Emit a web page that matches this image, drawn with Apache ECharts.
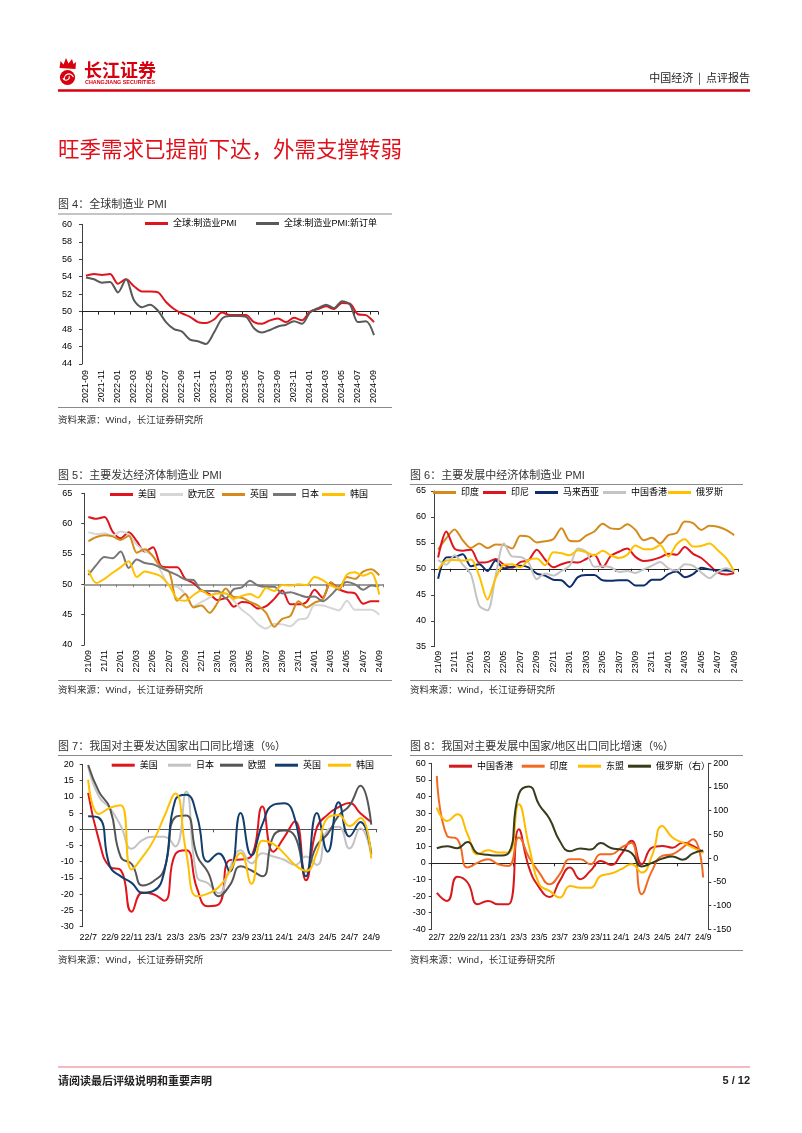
<!DOCTYPE html>
<html><head><meta charset="utf-8">
<script src="https://cdn.jsdelivr.net/npm/echarts@6/dist/echarts.min.js"></script>
<style>
html,body{margin:0;padding:0;background:#fff;width:802px;height:1133px;overflow:hidden;}
.c{position:absolute;left:0;top:0;width:802px;height:1133px;}
</style></head>
<body>
<div id="c0" class="c"></div><div id="c1" class="c"></div><div id="c2" class="c"></div>
<div id="c3" class="c"></div><div id="c4" class="c"></div><div id="c5" class="c"></div>
<script>
// ---------- categories ----------
const months4 = ['2021-09','2021-10','2021-11','2021-12','2022-01','2022-02','2022-03','2022-04','2022-05','2022-06','2022-07','2022-08','2022-09','2022-10','2022-11','2022-12','2023-01','2023-02','2023-03','2023-04','2023-05','2023-06','2023-07','2023-08','2023-09','2023-10','2023-11','2023-12','2024-01','2024-02','2024-03','2024-04','2024-05','2024-06','2024-07','2024-08','2024-09'];
const monthsS = ['21/09','21/10','21/11','21/12','22/01','22/02','22/03','22/04','22/05','22/06','22/07','22/08','22/09','22/10','22/11','22/12','23/01','23/02','23/03','23/04','23/05','23/06','23/07','23/08','23/09','23/10','23/11','23/12','24/01','24/02','24/03','24/04','24/05','24/06','24/07','24/08','24/09'];
const months7 = ['22/7','22/8','22/9','22/10','22/11','22/12','23/1','23/2','23/3','23/4','23/5','23/6','23/7','23/8','23/9','23/10','23/11','23/12','24/1','24/2','24/3','24/4','24/5','24/6','24/7','24/8','24/9'];

// ---------- Fig 4 ----------
const globalPMI = [54.1,54.3,54.2,54.3,53.2,53.7,52.9,52.3,52.3,52.2,51.1,50.3,49.8,49.4,48.8,48.7,49.1,49.9,49.6,49.6,49.6,48.8,48.6,49.0,49.2,48.8,49.3,49.0,50.0,50.3,50.6,50.3,51.0,50.9,49.7,49.6,48.8];
const globalNewOrders = [53.9,53.7,53.3,53.4,52.2,53.7,51.3,50.5,50.8,50.1,48.8,48.0,47.7,46.8,46.6,46.3,47.6,49.2,49.5,49.5,49.4,48.1,47.6,47.9,48.3,48.5,48.9,48.6,49.9,50.4,50.8,50.4,51.2,50.8,48.8,48.9,47.3];

// ---------- Fig 5 ----------
const usPMI = [61.1,60.8,61.1,58.7,57.6,58.6,57.1,55.4,56.1,53.0,52.8,52.8,50.9,50.2,49.0,48.4,47.4,47.7,46.3,47.1,46.9,46.0,46.4,47.6,49.0,46.7,46.7,47.1,49.1,47.8,50.3,49.2,48.7,48.5,46.8,47.2,47.2];
const ezPMI = [58.6,58.3,58.4,58.0,58.7,58.2,56.5,55.5,54.6,52.1,49.8,49.6,48.4,46.4,47.1,47.8,48.8,48.5,47.3,45.8,44.8,43.4,42.7,43.5,43.4,43.1,44.2,44.4,46.6,46.5,46.1,45.7,47.3,45.8,45.8,45.8,45.0];
const ukPMI = [57.1,57.8,58.1,57.9,57.3,58.0,55.2,55.8,54.6,52.8,52.1,47.3,48.4,46.2,46.5,45.3,47.0,49.3,47.9,47.8,47.1,46.5,45.3,43.0,44.3,44.8,47.2,46.2,47.0,47.5,50.3,49.1,51.2,50.9,52.1,52.5,51.5];
const jpPMI = [51.5,53.2,54.5,54.3,55.4,52.7,54.1,53.5,53.3,52.7,52.1,51.5,50.8,50.7,49.0,48.9,48.9,47.7,49.2,49.5,50.6,49.8,49.6,49.6,48.5,48.7,48.3,47.9,48.0,47.2,48.2,49.6,50.4,50.0,49.1,49.8,49.7];
const krPMI = [52.4,50.2,50.9,51.9,52.8,53.8,51.2,52.1,51.8,51.3,49.8,47.6,47.3,48.2,49.0,48.2,48.5,48.5,47.6,48.1,48.4,47.8,49.4,48.9,49.9,49.8,50.0,49.9,51.2,50.7,49.8,49.4,51.6,52.0,51.4,51.9,48.3];

// ---------- Fig 6 ----------
const inPMI = [53.7,55.9,57.6,55.5,54.0,54.9,54.0,54.7,54.6,53.9,56.4,56.2,55.1,55.3,55.7,57.8,55.4,55.3,56.4,57.2,58.7,57.8,57.7,58.6,57.5,55.5,56.0,54.9,56.5,56.9,59.1,58.8,57.5,58.3,58.1,57.5,56.5];
const idPMI = [52.2,57.2,53.9,53.5,53.7,51.2,51.3,51.9,50.8,50.2,51.3,51.7,53.7,51.8,50.3,50.9,51.3,51.2,51.9,52.7,50.3,52.5,53.3,53.9,52.3,51.5,51.7,52.2,52.9,52.7,54.2,52.9,52.1,50.7,49.3,48.9,49.2];
const myPMI = [48.1,52.2,52.3,52.8,50.5,50.9,49.6,51.6,50.1,50.4,50.6,50.3,49.1,48.7,47.9,47.8,46.5,48.4,48.8,48.8,47.8,47.7,47.8,47.8,46.8,46.8,47.9,47.9,49.0,49.5,48.4,49.0,50.2,49.9,49.7,49.7,49.5];
const hkPMI = [51.7,50.8,52.6,50.8,48.9,42.9,42.0,48.7,54.9,52.4,52.3,51.2,48.0,49.1,48.7,49.6,50.6,53.9,53.3,50.4,50.5,50.3,49.4,49.6,49.2,49.9,50.6,51.3,50.1,49.7,50.9,50.6,49.3,48.2,49.4,50.1,49.5];
const ruPMI = [49.8,51.6,51.7,51.6,51.8,48.6,44.1,48.2,50.8,50.9,50.3,51.7,52.0,50.7,53.2,53.0,52.6,53.6,53.2,52.6,53.5,52.6,52.1,52.7,54.5,53.8,53.8,54.6,52.4,54.7,55.7,54.3,54.4,54.9,53.6,52.1,49.5];

// ---------- Fig 7 ----------
const exUS = [11.2,-3.5,-11.6,-12.6,-25.4,-19.5,-20,-22,-7.7,-6.5,-18.2,-23.7,-23.1,-9.5,-9.3,-8.2,7.0,-6.9,-2.5,2.5,-15.7,0.5,4.5,6.8,8.1,4.9,2.2];
const exJP = [19.3,10,6.5,1,-6,-3.3,-2.3,-2.3,-5.3,11.6,-14.6,-16.6,-19.7,-12,-6.5,-10.5,-7.4,-8.4,-9.4,-11,-8.4,-11,-0.2,0.8,-5.9,0.3,-7.9];
const exEU = [19.8,11.5,6.5,-8.6,-10.7,-17.3,-16,-12.2,3.7,4.2,-8.1,-13.2,-20.6,-17.3,-11.4,-12.7,-14.5,-2.2,-0.4,-2.2,-13,-5,-1.4,4.2,7.3,13.4,1.4];
const exUK = [4,3.5,-11.4,-14.5,-16.5,-19.6,-19,-12.9,9,10.6,4,-10,-7.5,-13,5,-8,1.5,7.5,8,3,-14.5,5,-6.9,8.3,-2.2,2.2,-7.6];
const exKR = [15.3,4.7,6.6,7.4,-12.4,-8.5,-3.5,4,11,-7,-20.6,-19.8,-17.8,-13,-7.3,-16.8,-3.5,-4.5,-7.5,-11,-12.8,-7.2,3.5,4.4,1,3.5,-9];

// ---------- Fig 8 ----------
const exHK = [-18,-22.9,-8.4,-11.8,-24.9,-22.9,-24.9,-24.9,20.3,-2.8,-14.9,-20.5,-10.8,-2.8,-9.8,-4.8,1.2,-1.2,5.2,13.3,-0.8,9.2,10.2,9.2,12.2,10.2,6.2];
const exIN = [52.4,16.3,14.3,-2.8,0.2,2.2,-0.8,-1.8,15.3,3.2,-5.8,-12.9,-6.8,2.2,2.2,-0.8,5.2,5.2,9.2,12.2,-18.9,-4.8,4.2,5.2,9.2,14.3,-8.8];
const exASEAN = [33.3,25.3,29.3,17.3,5.2,7.6,6.2,6.2,35.3,10,-12.9,-16.9,-20.9,-13.9,-14.9,-14.9,-7.8,-6.4,-3.8,-0.8,-5.8,4.2,22.3,15.3,12.2,9.2,6.2];
const exRU = [21,25,21,34,10,7,5.5,10.5,135,151,112,83,36,14.5,20.5,18,32,21.5,18,11,-17.5,-10,-1,3.5,-3.5,10,16];

// ---------- helpers ----------
const FONT = '"Liberation Sans", Arial, "Noto Sans CJK SC", sans-serif';
const CJK = '"Noto Sans CJK SC", "Liberation Sans", sans-serif';

function line(name, data, color, smooth, yIdx) {
  return {type:'line', name, data, symbol:'none', smooth: smooth, yAxisIndex: yIdx || 0,
    lineStyle:{width:2, color}, itemStyle:{color}, emphasis:{disabled:true}, z: 3};
}
function legends(items, yc) {
  return items.map(([name, x]) => ({
    data:[name], left:x, top:yc-6, padding:0, itemWidth:23, itemHeight:3, icon:'rect',
    selectedMode:false, textStyle:{fontSize:9, color:'#000', fontFamily:FONT}
  }));
}
function catAxes(data, o) {
  return [
    {type:'category', data, boundaryGap:true, position:'bottom',
     axisLine:{show:false}, axisTick:{show:false},
     axisLabel:{interval:1, rotate:o.rotate||0, fontSize:o.fs||9, margin:o.margin, color:'#000', fontFamily:FONT}},
    {type:'category', data, boundaryGap:true, position:'top', offset:o.baseOffset,
     axisLine:{show:true, lineStyle:{color:o.baseColor, width:o.baseWidth||1}},
     axisTick:{show:true, inside:true, interval:o.tickInterval, length:3, lineStyle:{color:o.baseColor}},
     axisLabel:{show:false}, splitLine:{show:false}}
  ];
}
function valAxis(min, max, interval, o) {
  o = o || {};
  return {type:'value', min, max, interval, position:o.position||'left',
    axisLine:{show:true, lineStyle:{color:'#404040'}},
    axisTick:{show:true, length:3, lineStyle:{color:'#404040'}},
    splitLine:{show:false},
    axisLabel:{fontSize:9, color:'#000', margin:o.margin||8, fontFamily:FONT}};
}

// ---------- page chrome ----------
function txt(t, x, y, font, fill, align) {
  return {type:'text', x, y, silent:true, style:{text:t, font, fill, align:align||'left', verticalAlign:'middle', textAlign:align||'left', textVerticalAlign:'middle'}};
}
function hl(x1, x2, y, color, w) {
  return {type:'line', silent:true, shape:{x1, y1:y, x2, y2:y}, style:{stroke:color, lineWidth:w||1}};
}
const RED = '#d7000f';
const chrome = [
  // logo
  {type:'circle', shape:{cx:67.5, cy:77.5, r:7.6}, style:{fill:RED}},
  {type:'arc', shape:{cx:69, cy:78.5, r:4.6, startAngle:Math.PI*0.9, endAngle:Math.PI*1.9}, style:{stroke:'#fff', lineWidth:1.1, fill:null}},
  {type:'arc', shape:{cx:66, cy:77, r:3.2, startAngle:Math.PI*-0.1, endAngle:Math.PI*0.9}, style:{stroke:'#fff', lineWidth:1.1, fill:null}},
  {type:'polygon', shape:{points:[[59.5,68],[60.5,61],[63.5,64.5],[66,58],[68.5,63.5],[72,59],[73.5,64],[76,62],[75.5,69]]}, style:{fill:RED}},
  txt('长江证券', 84, 70.5, 'bold 18px "Noto Sans CJK SC"', RED),
  txt('CHANGJIANG SECURITIES', 85, 82.6, 'bold 5.4px "Liberation Sans"', RED),
  txt('中国经济  |  点评报告', 750, 77.5, '11px ' + CJK, '#222', 'right'),
  hl(58, 750, 90.5, RED, 2.5),
  txt('旺季需求已提前下达，外需支撑转弱', 58, 148.5, '21.5px ' + CJK, '#e0101b'),
  // figure titles
  txt('图 4：全球制造业 PMI', 58, 205, '11px ' + FONT, '#333'),
  txt('图 5：主要发达经济体制造业 PMI', 58, 475.5, '11px ' + FONT, '#333'),
  txt('图 6：主要发展中经济体制造业 PMI', 410, 475.5, '11px ' + FONT, '#333'),
  txt('图 7：我国对主要发达国家出口同比增速（%）', 58, 746.5, '11px ' + FONT, '#333'),
  txt('图 8：我国对主要发展中国家/地区出口同比增速（%）', 410, 746.5, '11px ' + FONT, '#333'),
  hl(58, 392, 214, '#8a8a8a', 1), hl(58, 392, 407.5, '#8a8a8a', 1),
  hl(58, 392, 484.5, '#8a8a8a', 1), hl(58, 392, 680.5, '#8a8a8a', 1),
  hl(410, 743, 484.5, '#8a8a8a', 1), hl(410, 743, 680.5, '#8a8a8a', 1),
  hl(58, 392, 755.5, '#8a8a8a', 1), hl(58, 392, 950.5, '#8a8a8a', 1),
  hl(410, 743, 755.5, '#8a8a8a', 1), hl(410, 743, 950.5, '#8a8a8a', 1),
  txt('资料来源：Wind，长江证券研究所', 58, 420.5, '9.5px ' + FONT, '#333'),
  txt('资料来源：Wind，长江证券研究所', 58, 690.5, '9.5px ' + FONT, '#333'),
  txt('资料来源：Wind，长江证券研究所', 410, 690.5, '9.5px ' + FONT, '#333'),
  txt('资料来源：Wind，长江证券研究所', 58, 960.5, '9.5px ' + FONT, '#333'),
  txt('资料来源：Wind，长江证券研究所', 410, 960.5, '9.5px ' + FONT, '#333'),
  // footer
  hl(58, 750, 1067, '#f1a3aa', 1.5),
  txt('请阅读最后评级说明和重要声明', 58, 1080.5, 'bold 11px ' + CJK, '#222'),
  txt('5 / 12', 750, 1080.5, 'bold 11px ' + FONT, '#222', 'right')
];

// ---------- Fig 4 ----------
const opt4 = {
  animation:false,
  graphic: chrome,
  grid:{left:82, top:224.3, width:296, height:139.7},
  legend: legends([['全球:制造业PMI',145],['全球:制造业PMI:新订单',256]], 225),
  xAxis: catAxes(months4, {rotate:90, margin:6, baseOffset:-87.3, baseColor:'#222', tickInterval:1}),
  yAxis: valAxis(44, 60, 2, {margin:10}),
  series:[
    line('全球:制造业PMI', globalPMI, '#e0141c', 0.3),
    line('全球:制造业PMI:新订单', globalNewOrders, '#595959', 0.3)
  ]
};

// ---------- Fig 5 ----------
const opt5 = {
  animation:false,
  grid:{left:84.3, top:493.3, width:299, height:151.7},
  legend: legends([['美国',110],['欧元区',160],['英国',222],['日本',273],['韩国',322]], 496),
  xAxis: catAxes(monthsS, {rotate:90, margin:5, baseOffset:-91, baseColor:'#808080', baseWidth:1.5, tickInterval:1}),
  yAxis: valAxis(40, 65, 5, {margin:12}),
  series:[
    line('美国', usPMI, '#e0141c', 0.3),
    line('欧元区', ezPMI, '#d6d6d6', 0.3),
    line('英国', ukPMI, '#d58b1c', 0.3),
    line('日本', jpPMI, '#767676', 0.3),
    line('韩国', krPMI, '#ffc000', 0.3)
  ]
};

// ---------- Fig 6 ----------
const opt6 = {
  animation:false,
  grid:{left:434, top:491, width:304.3, height:155.7},
  legend: legends([['印度',433],['印尼',483],['马来西亚',535],['中国香港',603],['俄罗斯',668]], 494),
  xAxis: catAxes(monthsS, {rotate:90, margin:4, baseOffset:-77.8, baseColor:'#222', tickInterval:1}),
  yAxis: valAxis(35, 65, 5, {margin:8}),
  series:[
    line('印度', inPMI, '#d58b1c', 0.3),
    line('印尼', idPMI, '#e0141c', 0.3),
    line('马来西亚', myPMI, '#0f2c6b', 0.3),
    line('中国香港', hkPMI, '#c4c4c4', 0.3),
    line('俄罗斯', ruPMI, '#ffc000', 0.3)
  ]
};

// ---------- Fig 7 ----------
const opt7 = {
  animation:false,
  grid:{left:82.7, top:764.3, width:294, height:162.4},
  legend: legends([['美国',111.7],['日本',168],['欧盟',220],['英国',275],['韩国',328]], 766.7),
  xAxis: catAxes(months7, {margin:6, baseOffset:-65, baseColor:'#555', tickInterval:5}),
  yAxis: valAxis(-30, 20, 5, {margin:9}),
  series:[
    line('美国', exUS, '#e0141c', 0.5),
    line('日本', exJP, '#c3c3c3', 0.5),
    line('欧盟', exEU, '#555555', 0.5),
    line('英国', exUK, '#123e6e', 0.5),
    line('韩国', exKR, '#ffc000', 0.5)
  ]
};

// ---------- Fig 8 ----------
const opt8 = {
  animation:false,
  grid:{left:431.7, top:763.3, width:276.6, height:166},
  legend: legends([['中国香港',449],['印度',521.7],['东盟',578],['俄罗斯（右）',628]], 767.7),
  xAxis: catAxes(months7, {margin:4, fs:8.5, baseOffset:-100, baseColor:'#222', tickInterval:3}),
  yAxis: [valAxis(-40, 60, 10, {margin:6}), valAxis(-150, 200, 50, {position:'right', margin:5})],
  series:[
    line('中国香港', exHK, '#d7191c', 0.5),
    line('印度', exIN, '#f26a21', 0.5),
    line('东盟', exASEAN, '#ffbb00', 0.5),
    line('俄罗斯（右）', exRU, '#383c1c', 0.5, 1)
  ]
};

const opts = [opt4, opt5, opt6, opt7, opt8];
opts.forEach((o, i) => {
  const ch = echarts.init(document.getElementById('c' + i), null, {renderer:'canvas', width:802, height:1133});
  ch.setOption(o);
});
</script>
</body></html>
